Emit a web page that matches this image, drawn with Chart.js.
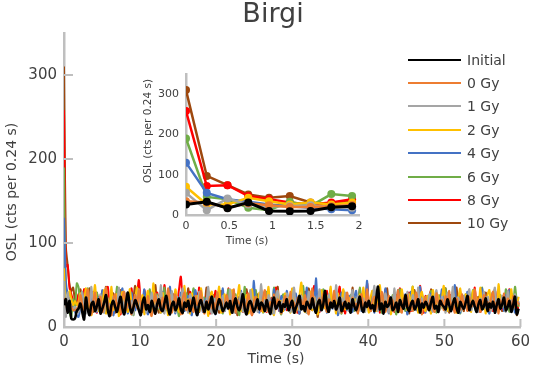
<!DOCTYPE html>
<html lang="en">
  <head>
    <meta charset="UTF-8" />
    <title>Birgi OSL</title>
    <style>
      body {
        margin: 0;
        background: #fff;
        font-family: "DejaVu Sans", sans-serif;
      }
      #wrap {
        position: relative;
        width: 536px;
        height: 373px;
      }
      #main {
        position: absolute;
        left: 0;
        top: 0;
      }
      #inset {
        position: absolute;
        left: 130px;
        top: 60px;
      }
      #legend {
        position: absolute;
        left: 408px;
        top: 48px;
      }
      .item {
        height: 23.4px;
        display: flex;
        align-items: center;
        font-size: 14px;
        color: #404040;
      }
      .swatch {
        width: 53px;
        height: 2px;
        margin-right: 6px;
      }
    </style>
    <script src="https://cdn.jsdelivr.net/npm/chart.js"></script>
  </head>
  <body>
    <div id="wrap">
      <canvas id="main" width="536" height="373"></canvas>
      <canvas id="inset" width="240" height="190"></canvas>
      <div id="legend"></div>
    </div>
    <script>
      // channel width (s)
      const STEP = 0.24;

      const seriesNames = ["Initial", "0 Gy", "1 Gy", "2 Gy", "4 Gy", "6 Gy", "8 Gy", "10 Gy"];
      const seriesColors = ["#000000", "#ED7D31", "#A5A5A5", "#FFC000", "#4472C4", "#70AD47", "#FF0000", "#9E480E"];

      const mainXTicks = [0, 10, 20, 30, 40, 50, 60];
      const mainYTicks = [0, 100, 200, 300];
      const insetXTicks = [0, 0.5, 1, 1.5, 2];
      const insetXLabels = ["0", "0.5", "1", "1.5", "2"];

      // counts per 0.24 s channel
      const initial = [
        26,33,17,31,10,9,10,19,22,28,18,9,35,21,14,27,30,19,25,33,
        16,22,29,38,20,13,26,31,24,18,28,36,22,15,30,41,25,17,23,32,
        27,20,14,29,35,21,26,18,31,24,16,27,33,22,19,28,37,23,15,26,
        30,20,25,34,21,17,29,24,31,19,26,35,22,14,27,32,24,18,30,21,
        28,36,20,16,25,33,27,19,23,29,22,31,17,26,34,24,20,28,39,22,
        15,27,31,25,18,24,33,21,29,26,19,32,23,16,28,35,22,25,30,18,
        27,24,33,20,26,31,17,23,29,37,21,25,19,30,26,22,34,24,17,28,
        32,20,27,43,25,18,29,23,31,21,26,35,19,24,30,22,28,17,33,25,
        20,27,36,23,18,29,24,31,22,26,19,34,48,21,28,16,30,24,27,35,
        20,23,29,18,32,26,22,38,24,19,27,31,21,25,33,17,28,23,30,26,
        20,29,36,22,25,18,31,27,24,21,33,26,19,28,34,23,17,30,25,22,
        29,37,20,26,31,24,18,27,32,21,25,34,19,28,23,30,17,26,33,22,
        27,35,20,24,31,18,26,36,15,22
      ];
      const gy0 = [
        34,31,18,29,24,20,20,22,25,38,27,19,33,45,26,15,30,41,22,28,
        36,18,25,47,30,21,14,33,39,24,29,17,35,42,20,27,31,16,26,38,
        23,44,29,18,32,25,37,21,13,28,40,24,30,19,35,27,22,46,31,17,
        26,39,23,29,15,34,41,20,28,33,24,18,37,26,30,43,21,16,31,25,
        36,22,29,19,41,27,33,18,24,38,30,21,26,45,17,32,28,23,35,20,
        29,40,25,14,31,36,22,27,19,34,44,26,18,30,24,39,21,33,28,16,
        25,37,30,20,42,23,29,17,35,27,32,21,38,24,15,31,46,26,19,28,
        34,22,40,27,18,33,25,30,43,20,26,36,17,29,23,41,31,19,35,24,
        28,16,33,39,22,27,45,25,19,31,36,21,28,24,42,30,18,26,37,23,
        32,20,29,44,26,17,34,25,38,22,30,19,27,41,24,33,15,29,36,21,
        27,35,23,18,40,29,25,32,20,37,26,43,22,30,17,34,28,21,39,25,
        31,19,36,24,28,45,22,33,18,27,38,25,30,20,35,42,23,29,16,32,
        26,40,21,34,28,19,37,24,30,27
      ];
      const gy1 = [
        55,12,41,26,22,22,24,19,18,30,42,25,16,35,28,48,21,33,19,27,
        39,23,17,44,30,26,14,36,29,21,47,25,33,18,40,27,22,31,15,38,
        26,45,20,29,35,17,32,24,41,28,19,37,23,50,26,16,34,30,22,43,
        27,18,36,25,31,46,21,28,17,39,33,24,29,19,42,26,35,20,30,48,
        23,16,34,28,40,21,27,37,19,31,25,45,22,17,36,29,24,41,18,33,
        27,20,44,30,23,36,18,28,51,25,32,19,38,24,29,16,35,43,21,27,
        33,22,40,26,18,31,47,24,29,20,37,25,34,17,42,28,23,36,19,30,
        45,21,27,33,18,39,25,30,22,50,28,17,35,24,41,26,19,32,44,23,
        29,37,20,26,34,18,43,28,22,31,49,25,19,36,27,23,40,30,17,33,
        26,46,21,29,35,18,32,24,42,27,20,38,30,23,47,19,34,26,31,22,
        39,25,18,33,44,27,21,36,29,17,41,24,30,48,22,28,35,19,26,37,
        23,31,45,20,27,38,25,18,34,29,42,22,36,26,19,33,47,24,30,21,
        37,28,18,43,25,32,22,39,27,31
      ];
      const gy2 = [
        70,26,26,43,34,26,31,26,31,40,17,29,46,22,35,14,31,50,24,19,
        37,28,44,16,33,25,48,20,30,39,13,27,42,23,35,18,45,29,21,34,
        47,19,26,38,15,32,43,24,29,52,20,28,36,17,41,25,31,14,38,27,
        22,45,30,18,35,26,49,21,33,16,40,28,24,37,19,46,31,23,29,13,
        36,42,25,20,33,48,17,28,39,24,31,15,44,27,21,35,50,19,30,26,
        38,16,29,45,23,34,20,41,27,18,37,30,48,22,26,14,33,43,25,31,
        19,40,28,35,17,46,24,30,21,38,53,26,18,33,29,42,20,36,25,15,
        31,44,27,22,37,19,48,29,34,16,40,25,30,45,21,28,35,18,42,26,
        33,20,39,27,47,23,30,17,36,43,25,19,32,50,28,21,38,24,34,15,
        29,41,22,36,18,45,27,33,20,39,26,48,23,30,17,35,42,25,19,37,
        28,16,44,31,23,38,21,34,49,26,19,36,29,42,24,17,33,46,27,22,
        39,25,31,18,43,29,35,20,47,26,32,16,38,44,23,28,34,21,51,30,
        24,37,19,33,28,45,22,31,26,36
      ];
      const gy4 = [
        130,55,39,33,26,22,18,14,12,24,31,19,36,27,15,42,23,30,18,35,
        26,44,21,17,33,28,39,14,25,37,22,30,46,19,27,16,34,41,24,20,
        31,38,18,26,45,23,15,33,29,40,21,27,36,17,42,25,30,19,48,24,
        28,16,35,22,41,30,19,26,37,24,14,32,44,27,21,38,18,29,34,23,
        40,20,27,15,36,31,24,46,19,28,33,22,39,26,17,35,29,43,21,25,
        32,18,38,25,55,22,30,17,36,27,41,20,28,34,16,45,24,31,19,37,
        26,21,43,29,18,34,27,40,23,16,38,31,25,47,20,28,35,22,58,26,
        19,33,24,39,17,30,45,22,28,36,14,27,41,25,32,20,37,29,18,34,
        43,23,27,19,38,30,55,21,26,35,17,40,28,24,33,20,46,29,16,31,
        36,22,27,44,19,32,25,39,15,29,42,24,34,20,28,48,23,31,17,37,
        26,40,21,30,35,18,27,45,24,33,19,38,29,22,50,26,31,17,36,23,
        28,42,20,34,25,39,18,30,27,46,22,35,24,16,33,41,28,21,37,25,
        30,19,38,26,44,23,29,17,35,28
      ];
      const gy6 = [
        190,45,39,18,12,33,22,52,47,25,38,20,31,46,27,17,35,29,41,23,
        30,19,43,26,34,15,37,28,22,48,25,31,18,40,27,33,21,36,14,29,
        44,24,30,19,37,27,23,45,16,32,28,39,21,34,26,47,20,29,35,18,
        31,42,25,13,36,28,22,40,30,17,33,46,24,27,19,38,29,35,21,43,
        26,18,34,30,41,22,28,16,37,25,45,20,32,27,39,23,14,35,29,48,
        21,33,26,38,19,44,28,24,36,17,30,42,25,31,20,47,27,35,22,15,
        39,29,24,34,18,43,26,31,21,37,28,49,23,17,35,30,25,41,19,33,
        27,22,45,29,36,18,31,25,40,20,34,28,16,43,26,32,23,38,30,19,
        35,24,47,27,21,33,39,18,29,25,44,22,31,36,17,28,42,24,30,20,
        38,26,15,33,45,23,29,19,37,27,32,48,21,25,35,18,40,28,24,31,
        20,43,26,34,17,30,38,23,28,46,19,33,25,41,22,29,36,16,31,27,
        39,21,35,28,44,24,18,32,27,47,22,30,36,19,26,42,25,33,20,38,
        27,23,45,29,18,34,26,48,31,24
      ];
      const gy8 = [
        258,72,74,47,39,31,26,31,39,28,22,45,33,19,37,26,42,30,17,35,
        27,40,21,32,48,24,18,36,29,43,25,15,34,28,39,22,31,46,20,27,
        37,56,30,18,44,26,33,21,38,29,16,41,27,35,23,50,28,19,32,25,
        39,22,29,45,60,31,26,36,20,42,28,24,33,18,47,27,30,21,37,25,
        16,34,29,43,22,27,38,19,31,24,46,26,33,20,28,33,35,23,18,30,
        41,25,29,14,36,27,32,21,44,23,30,18,38,26,34,22,47,28,19,31,
        25,39,20,33,27,45,22,29,17,36,31,24,42,28,21,35,26,49,23,30,
        18,37,27,32,43,21,29,25,38,20,34,48,24,28,16,36,30,22,41,27,
        33,19,45,26,31,23,52,28,20,36,29,24,40,17,32,27,44,22,35,25,
        30,18,38,27,46,21,33,24,29,41,19,35,26,32,22,49,28,17,37,25,
        31,43,22,27,36,18,34,29,24,46,21,30,38,26,19,33,28,42,23,35,
        27,20,39,31,25,47,22,34,18,29,41,26,32,23,37,19,44,28,24,33,
        21,38,26,30,45,23,29,35,20,27
      ];
      const gy10 = [
        310,97,74,51,43,47,31,26,35,45,28,20,37,30,46,24,18,33,41,27,
        22,36,29,48,19,31,25,40,17,34,27,44,23,30,21,38,26,15,33,49,
        28,21,35,24,42,18,30,27,39,22,50,26,17,32,29,45,23,36,20,31,
        25,41,19,34,28,16,37,24,46,30,21,33,27,40,18,29,35,23,47,26,
        20,32,38,24,29,17,43,27,22,35,30,19,41,25,33,14,36,28,22,31,
        45,26,20,37,29,24,39,18,32,27,42,21,30,15,35,28,23,48,26,33,
        19,30,38,24,27,43,21,34,29,16,37,25,31,22,46,28,20,35,26,12,
        33,27,41,23,29,18,36,30,24,45,21,28,34,19,38,26,31,22,47,25,
        29,17,35,27,40,22,31,26,19,43,28,33,23,37,20,30,25,46,21,34,
        27,38,18,31,24,42,29,22,35,16,33,27,44,21,30,25,39,19,32,28,
        23,45,26,31,18,36,28,40,22,29,34,17,38,25,30,47,21,33,26,19,
        37,27,32,22,43,24,29,36,18,31,25,41,28,20,34,26,45,23,30,27,
        19,36,28,33,22,40,26,31,14,29
      ];

      const allSeries = [initial, gy0, gy1, gy2, gy4, gy6, gy8, gy10];
      const INSET_POINTS = 9; // 0 .. 1.92 s

      const textColor = "#404040";
      const axisColor = "#BFBFBF";
      Chart.defaults.font.family = "'DejaVu Sans', sans-serif";
      Chart.defaults.color = textColor;

      function toPoints(arr, n) {
        return arr.slice(0, n || arr.length).map((v, i) => ({ x: i * STEP, y: v }));
      }

      // chart title, axis titles at fixed spots + inside tick marks
      const decorations = {
        id: "decorations",
        afterDraw(chart, args, opts) {
          const ctx = chart.ctx;
          const area = chart.chartArea;
          ctx.save();
          if (opts.ticks) {
            ctx.strokeStyle = axisColor;
            ctx.lineWidth = 2;
            ctx.beginPath();
            opts.ticks.y.forEach((v) => {
              const py = chart.scales.y.getPixelForValue(v);
              ctx.moveTo(area.left, py);
              ctx.lineTo(area.left + 9, py);
            });
            opts.ticks.x.forEach((v) => {
              const px = chart.scales.x.getPixelForValue(v);
              ctx.moveTo(px, area.bottom);
              ctx.lineTo(px, area.bottom - 8);
            });
            ctx.stroke();
          }
          ctx.fillStyle = textColor;
          ctx.textAlign = "center";
          ctx.textBaseline = "middle";
          if (opts.title) {
            ctx.font = opts.title.size + "px 'DejaVu Sans', sans-serif";
            ctx.fillText(opts.title.text, opts.title.x, opts.title.y);
          }
          ctx.font = opts.size + "px 'DejaVu Sans', sans-serif";
          ctx.fillText(opts.xTitle.text, opts.xTitle.x, opts.xTitle.y);
          ctx.translate(opts.yTitle.x, opts.yTitle.y);
          ctx.rotate(-Math.PI / 2);
          ctx.fillText(opts.yTitle.text, 0, 0);
          ctx.restore();
        },
      };

      const mainDatasets = allSeries.map((s, i) => ({
        label: seriesNames[i],
        data: toPoints(s),
        borderColor: seriesColors[i],
        backgroundColor: seriesColors[i],
        borderWidth: i === 0 ? 2.6 : 2,
        pointRadius: 0,
        tension: 0.3,
      }));

      new Chart(document.getElementById("main"), {
        type: "line",
        data: { datasets: mainDatasets },
        plugins: [decorations],
        options: {
          responsive: false,
          animation: false,
          devicePixelRatio: 1,
          layout: { padding: { left: 0, right: 13, top: 33, bottom: 0 } },
          plugins: {
            legend: { display: false },
            tooltip: { enabled: false },
            decorations: {
              size: 14,
              title: { text: "Birgi", size: 27, x: 273, y: 15 },
              ticks: { x: mainXTicks.slice(1), y: mainYTicks.slice(1) },
              xTitle: { text: "Time (s)", x: 276, y: 359 },
              yTitle: { text: "OSL (cts per 0.24 s)", x: 12, y: 192 },
            },
          },
          scales: {
            x: {
              type: "linear",
              min: 0,
              max: 60,
              afterBuildTicks: (s) => { s.ticks = mainXTicks.map((v) => ({ value: v })); },
              afterFit: (s) => { s.height = 46; },
              grid: { display: false, drawTicks: false },
              border: { display: true, color: axisColor, width: 2.5 },
              ticks: { font: { size: 15 }, padding: 6, maxRotation: 0 },
            },
            y: {
              min: 0,
              max: 350,
              afterBuildTicks: (s) => { s.ticks = mainYTicks.map((v) => ({ value: v })); },
              afterFit: (s) => { s.width = 64; },
              grid: { display: false, drawTicks: false },
              border: { display: true, color: axisColor, width: 2.5 },
              ticks: { font: { size: 15 }, padding: 7 },
            },
          },
        },
      });

      const insetDatasets = allSeries.map((s, i) => ({
        label: seriesNames[i],
        data: toPoints(s, INSET_POINTS),
        borderColor: seriesColors[i],
        backgroundColor: seriesColors[i],
        borderWidth: i === 0 ? 3 : 2.5,
        pointRadius: 4,
        pointBorderWidth: 0,
        tension: 0,
      }));

      new Chart(document.getElementById("inset"), {
        type: "line",
        data: { datasets: insetDatasets },
        plugins: [decorations],
        options: {
          responsive: false,
          animation: false,
          devicePixelRatio: 1,
          layout: { padding: { left: 0, right: 11, top: 14, bottom: 0 } },
          plugins: {
            legend: { display: false },
            tooltip: { enabled: false },
            decorations: {
              size: 10.5,
              xTitle: { text: "Time (s)", x: 117, y: 181 },
              yTitle: { text: "OSL (cts per 0.24 s)", x: 18, y: 71 },
            },
          },
          scales: {
            x: {
              type: "linear",
              min: 0,
              max: 2,
              afterBuildTicks: (s) => { s.ticks = insetXTicks.map((v) => ({ value: v })); },
              afterFit: (s) => { s.height = 35; },
              grid: { display: false, drawTicks: false },
              border: { display: true, color: axisColor, width: 2.5 },
              ticks: {
                font: { size: 11 },
                padding: 5,
                maxRotation: 0,
                callback: (v, i) => insetXLabels[i],
              },
            },
            y: {
              min: 0,
              max: 350,
              afterBuildTicks: (s) => { s.ticks = mainYTicks.map((v) => ({ value: v })); },
              afterFit: (s) => { s.width = 56; },
              grid: { display: false, drawTicks: false },
              border: { display: true, color: axisColor, width: 2.5 },
              ticks: { font: { size: 11 }, padding: 7 },
            },
          },
        },
      });

      // legend
      const legend = document.getElementById("legend");
      seriesNames.forEach((name, i) => {
        const row = document.createElement("div");
        row.className = "item";
        row.innerHTML = `<span class="swatch" style="background:${seriesColors[i]}"></span>${name}`;
        legend.appendChild(row);
      });
    </script>
  </body>
</html>
